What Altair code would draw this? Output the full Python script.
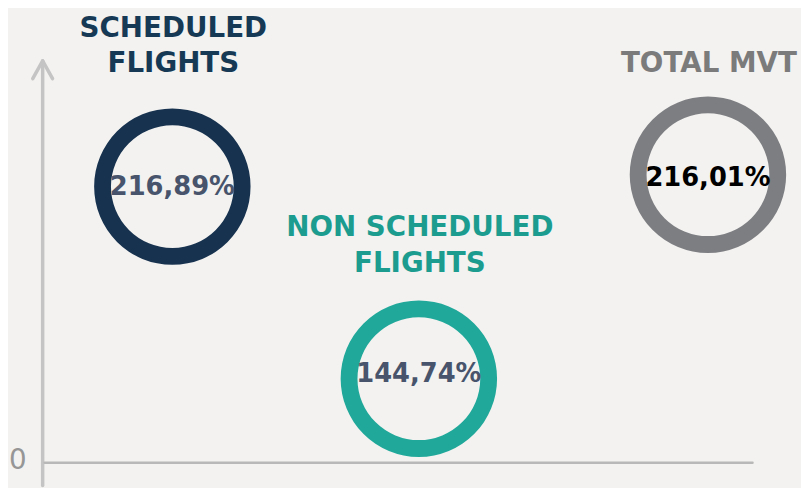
import altair as alt
import pandas as pd

# ---- data ----
categories = ["SCHEDULED FLIGHTS", "NON SCHEDULED FLIGHTS", "TOTAL MVT"]
title_lines = [["SCHEDULED", "FLIGHTS"], ["NON SCHEDULED", "FLIGHTS"], ["TOTAL MVT"]]
pct_labels = ["216,89%", "144,74%", "216,01%"]
pct_values = [216.89, 144.74, 216.01]
ring_colors = ["#17324f", "#20a89a", "#7d7e82"]
title_colors = ["#163a55", "#1b9c8f", "#7b7b7b"]
pct_colors = ["#47546b", "#47546b", "#000000"]

# layout (pixel-like coordinates of the infographic canvas)
center_x = [174, 423, 715]
center_y = [186, 380, 174]
pct_y = [186, 375, 177]
title_y = [[27, 62], [228, 264], [62]]

FONT = "DejaVu Sans"
W, H = 801, 480

rings = pd.DataFrame({
    "cat": categories, "x": center_x, "y": center_y,
    "label": pct_labels, "value": pct_values, "ly": pct_y,
    "ring": ring_colors, "tcol": pct_colors,
})

trows = []
for c, lines, ys, col, cx in zip(categories, title_lines, title_y, title_colors, center_x):
    for ln, yy in zip(lines, ys):
        trows.append({"cat": c, "text": ln, "x": cx + 1, "y": yy, "col": col})
titles = pd.DataFrame(trows)

axes = pd.DataFrame([
    {"x": 43, "y": 60, "x2": 43, "y2": 488, "w": 3.5, "c": "#c4c4c4"},
    {"x": 43, "y": 59, "x2": 33, "y2": 77, "w": 3.5, "c": "#c4c4c4"},
    {"x": 43, "y": 59, "x2": 53, "y2": 77, "w": 3.5, "c": "#c4c4c4"},
    {"x": 45, "y": 465, "x2": 760, "y2": 465, "w": 2.5, "c": "#b8b8b8"},
])
zero = pd.DataFrame({"x": [18], "y": [463], "t": ["0"]})

xs = alt.Scale(domain=[8, 8 + W], nice=False, zero=False)
ys = alt.Scale(domain=[8 + H, 8], nice=False, zero=False)

def X(f="x"):
    return alt.X(f"{f}:Q", scale=xs, axis=None)

def Y(f="y"):
    return alt.Y(f"{f}:Q", scale=ys, axis=None)

axis_layer = alt.Chart(axes).mark_rule(strokeCap="round").encode(
    x=X(), y=Y(), x2="x2:Q", y2="y2:Q",
    strokeWidth=alt.StrokeWidth("w:Q", scale=None),
    color=alt.Color("c:N", scale=None),
)

zero_layer = alt.Chart(zero).mark_text(
    font=FONT, fontSize=28, color="#969696", baseline="middle", align="center"
).encode(x=X(), y=Y(), text="t:N")

ring_layer = alt.Chart(rings).mark_arc(
    innerRadius=62, outerRadius=79, theta=0, theta2=6.2832
).encode(
    x=X(), y=Y(), color=alt.Color("ring:N", scale=None)
)

pct_layer = alt.Chart(rings).mark_text(
    font=FONT, fontSize=26, fontWeight="bold", baseline="middle", align="center"
).encode(
    x=X(), y=Y("ly"), text="label:N", color=alt.Color("tcol:N", scale=None)
)

title_layer = alt.Chart(titles).mark_text(
    font=FONT, fontSize=28, fontWeight="bold", baseline="middle", align="center"
).encode(
    x=X(), y=Y(), text="text:N", color=alt.Color("col:N", scale=None)
)

chart = alt.layer(axis_layer, zero_layer, ring_layer, pct_layer, title_layer).properties(
    width=W, height=H, background="#f3f2f0", padding=0, autosize="none"
).configure_view(stroke=None)

chart.save("out.html", embed_options={"renderer": "svg", "actions": False})
